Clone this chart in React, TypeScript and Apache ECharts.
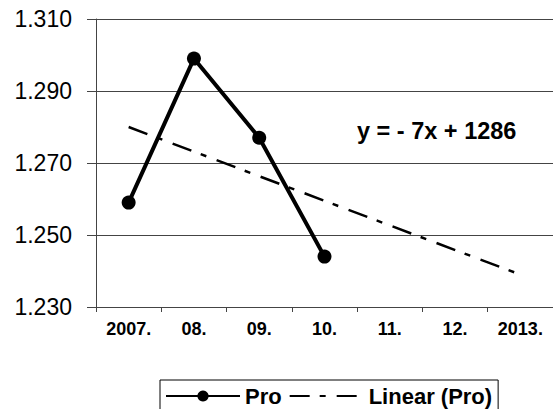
import React, { useEffect, useRef } from "react";
import * as echarts from "echarts";

const categories = ["2007.", "08.", "09.", "10.", "11.", "12.", "2013."];
const proValues: (number | null)[] = [1.259, 1.299, 1.277, 1.244, null, null, null];
const trendValues: (number | null)[] = [1.28, null, null, null, null, null, 1.239];
const yTickLabels = ["1.230", "1.250", "1.270", "1.290", "1.310"];
const equationText = "y = - 7x + 1286";

const Y_BASE = 1.23;
const FONT = "'Liberation Sans', Arial, sans-serif";

export default function App() {
  const ref = useRef<HTMLDivElement>(null);
  useEffect(() => {
    if (!ref.current) return;
    const chart = echarts.init(ref.current, null, { renderer: "svg" });
    const shift = (arr: (number | null)[]) => arr.map((v) => (v == null ? null : +(v - Y_BASE).toFixed(4)));
    chart.setOption({
      animation: false,
      backgroundColor: "#fff",
      grid: { left: 96, top: 19, width: 467, height: 288, containLabel: false },
      xAxis: {
        type: "category",
        data: categories,
        boundaryGap: true,
        axisLine: { lineStyle: { color: "#444", width: 1 } },
        axisTick: { show: true, length: 5, lineStyle: { color: "#444" } },
        axisLabel: {
          color: "#000",
          fontFamily: FONT,
          fontWeight: "bold",
          fontSize: 18,
          margin: 13,
        },
        splitLine: { show: false },
      },
      yAxis: {
        type: "value",
        min: 0,
        max: 0.08,
        interval: 0.02,
        axisLine: { show: true, lineStyle: { color: "#444", width: 1 } },
        axisTick: { show: true, length: 9, lineStyle: { color: "#444" } },
        axisLabel: {
          color: "#000",
          fontFamily: FONT,
          fontSize: 23,
          margin: 24,
          formatter: (v: number) => {
            const idx = Math.round(v / 0.02);
            return yTickLabels[idx] ?? (v + Y_BASE).toFixed(3);
          },
        },
        splitLine: { show: true, lineStyle: { color: "#444", width: 1 } },
      },
      legend: {
        left: 160,
        top: 380,
        orient: "horizontal",
        borderColor: "#000",
        borderWidth: 1,
        padding: [5, 6, 10, 5],
        itemGap: 7,
        itemWidth: 74,
        itemHeight: 14,
        textStyle: { color: "#000", fontFamily: FONT, fontWeight: "bold", fontSize: 22 },
        data: [
          { name: "Pro" },
          { name: "Linear (Pro)", itemStyle: { opacity: 0, color: "transparent", borderColor: "transparent" } },
        ],
      },
      graphic: [
        {
          type: "text",
          left: 357,
          top: 119,
          style: {
            text: equationText,
            fill: "#000",
            font: `bold 23.5px ${FONT}`,
          },
        },
      ],
      series: [
        {
          name: "Pro",
          type: "line",
          data: shift(proValues),
          symbol: "circle",
          symbolSize: 14,
          lineStyle: { color: "#000", width: 4 },
          itemStyle: { color: "#000" },
          connectNulls: false,
          z: 3,
        },
        {
          name: "Linear (Pro)",
          type: "line",
          data: shift(trendValues),
          symbol: "none",
          connectNulls: true,
          lineStyle: { color: "#000", width: 2.5, type: [20, 10, 6, 11] },
          itemStyle: { color: "#000" },
          z: 2,
        },
      ],
    });
    return () => chart.dispose();
  }, []);
  return (
    <div
      ref={ref}
      style={{ position: "fixed", left: 0, top: 0, width: 553, height: 409, background: "#fff" }}
    />
  );
}
